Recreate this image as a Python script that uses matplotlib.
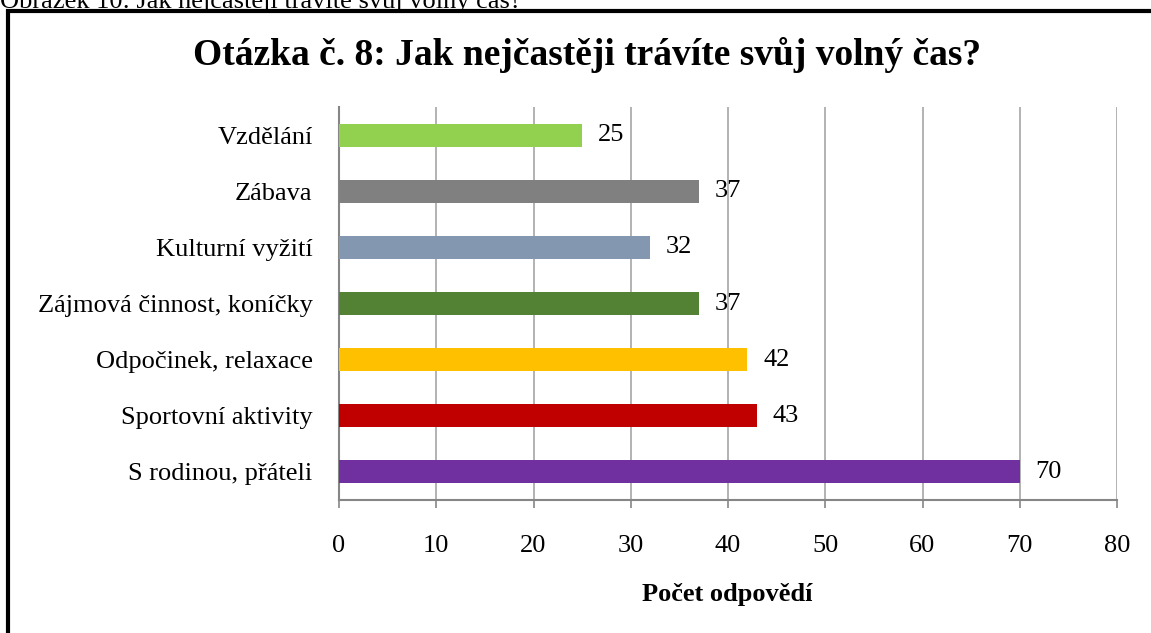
import matplotlib.pyplot as plt
from matplotlib.patches import Rectangle

categories = ['S rodinou, přáteli', 'Sportovní aktivity', 'Odpočinek, relaxace',
              'Zájmová činnost, koníčky', 'Kulturní vyžití', 'Zábava', 'Vzdělání']
values = [70, 43, 42, 37, 32, 37, 25]
colors = ['#7030A0', '#C00000', '#FFC000', '#548235', '#8497B0', '#808080', '#92D050']
xticks = [0, 10, 20, 30, 40, 50, 60, 70, 80]

plt.rcParams['font.family'] = ['Liberation Serif', 'DejaVu Serif']

fig = plt.figure(figsize=(11.51, 6.33), dpi=100)
ax = fig.add_axes([339 / 1151, 133 / 633, 778 / 1151, 393 / 633])

ypos = range(len(categories))
ax.barh(ypos, values, height=0.41, color=colors, zorder=3)
for y, v in zip(ypos, values):
    ax.text(v + 1.6, y, str(v), va='center', ha='left', fontsize=19, zorder=4)

ax.set_xlim(0, 80)
ax.set_ylim(-0.5, len(categories) - 0.5)
ax.set_xticks(xticks)
ax.set_yticks(list(ypos))
ax.set_yticklabels(categories)
ax.tick_params(axis='x', labelsize=19, color='#868686', length=6, width=1.2, pad=19)
ax.tick_params(axis='y', labelsize=19, length=0, pad=19)
ax.grid(axis='x', color='#A6A6A6', linewidth=1.2, zorder=0)
for s in ['top', 'right']:
    ax.spines[s].set_visible(False)
for s in ['left', 'bottom']:
    ax.spines[s].set_color('#868686')
    ax.spines[s].set_linewidth(1.5)

ax.set_xlabel('Počet odpovědí', fontsize=19, fontweight='bold', va='center')
ax.xaxis.set_label_coords((727 - 339) / 778, (500 - 595) / 393)

fig.text(193 / 1151, 1 - 55 / 633, 'Otázka č. 8: Jak nejčastěji trávíte svůj volný čas?',
         ha='left', va='center', fontsize=27, fontweight='bold')

# caption of the document, cut off at the top
fig.text(0.0, 1 - 8 / 633, 'Obrázek 10: Jak nejčastěji trávíte svůj volný čas?',
         ha='left', va='baseline', fontsize=19)

# black chart frame
fig.patches.append(Rectangle((8 / 1151, -0.05), 1.1, 1 - 11 / 633 + 0.05,
                             transform=fig.transFigure, fill=False,
                             edgecolor='black', linewidth=3, clip_on=False))

fig.savefig('out.png', dpi=100)
